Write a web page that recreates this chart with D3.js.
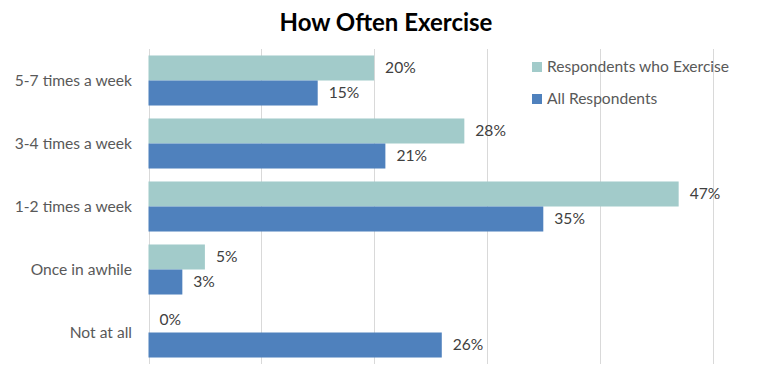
<!DOCTYPE html>
<html><head><meta charset="utf-8">
<script src="https://cdn.jsdelivr.net/npm/d3@7"></script>
<style>body{margin:0;background:#fff;}svg{display:block;}</style>
</head><body>
<svg id="chart" width="776" height="370"></svg>
<script>
const categories = ["5-7 times a week", "3-4 times a week", "1-2 times a week", "Once in awhile", "Not at all"];
const seriesNames = ["Respondents who Exercise", "All Respondents"];
const exerciseValues = [20, 28, 47, 5, 0];
const allValues = [15, 21, 35, 3, 26];
const xTicks = [0, 10, 20, 30, 40, 50];
const colors = ["#A2CBCA", "#4F81BD"];

(function () {
const svg = d3.select("#chart");
const W = 776, H = 370;
const pLeft = 148.5, pRight = 712.5, pTop = 49, pBottom = 364;
const font = "Lato, 'Open Sans', sans-serif";
const fs = 15.6;

svg.append("rect").attr("width", W).attr("height", H).attr("fill", "#fff");

const x = d3.scaleLinear().domain([0, 50]).range([pLeft, pRight]);
const y = d3.scaleBand().domain(categories).range([pTop, pBottom]).paddingInner(0.206).paddingOuter(0.103);
const ySub = d3.scaleBand().domain(seriesNames).range([0, y.bandwidth()]);

// gridlines
svg.append("g").selectAll("line").data(xTicks).join("line")
  .attr("x1", d => Math.round(x(d)) + 0.5).attr("x2", d => Math.round(x(d)) + 0.5)
  .attr("y1", pTop).attr("y2", pBottom)
  .attr("stroke", "#D9D9D9").attr("stroke-width", 1);

// title
svg.append("text").attr("x", W / 2 - 2).attr("y", 31).attr("text-anchor", "middle")
  .attr("font-family", font).attr("font-weight", "bold").attr("font-size", 24)
  .attr("fill", "#000").text("How Often Exercise");

// category labels
const yAxis = d3.axisLeft(y).tickSize(0).tickPadding(0);
const gy = svg.append("g").attr("transform", `translate(132,0)`).call(yAxis);
gy.select(".domain").remove();
gy.selectAll("text").attr("font-family", font).attr("font-size", fs).attr("fill", "#595959");

const series = [exerciseValues, allValues];
series.forEach((vals, si) => {
  const g = svg.append("g");
  g.selectAll("rect").data(categories).join("rect")
    .attr("x", x(0))
    .attr("y", (c) => y(c) + ySub(seriesNames[si]))
    .attr("width", (c, i) => x(vals[i]) - x(0))
    .attr("height", ySub.bandwidth())
    .attr("fill", colors[si]);
  g.selectAll("text").data(categories).join("text")
    .attr("x", (c, i) => x(vals[i]) + 11)
    .attr("y", (c) => y(c) + ySub(seriesNames[si]) + ySub.bandwidth() / 2)
    .attr("dy", "0.35em")
    .attr("font-family", font).attr("font-size", fs).attr("fill", "#404040")
    .text((c, i) => vals[i] + "%");
});

// legend
const legend = svg.append("g");
seriesNames.forEach((name, i) => {
  const cy = 67 + i * 32;
  legend.append("rect").attr("x", 532).attr("y", cy - 5).attr("width", 10).attr("height", 10).attr("fill", colors[i]);
  legend.append("text").attr("x", 547).attr("y", cy).attr("dy", "0.35em")
    .attr("font-family", font).attr("font-size", fs).attr("fill", "#595959").text(name);
});
})();
</script>
</body></html>
